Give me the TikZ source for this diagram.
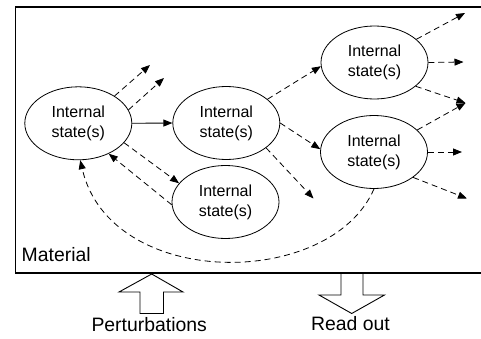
\documentclass[tikz,border=0pt]{standalone}
\usepackage{fontspec}
\setmainfont{Liberation Sans}
\usetikzlibrary{shapes.geometric,arrows.meta}
\begin{document}
\begin{tikzpicture}[x=1pt,y=-1pt,
  state/.style={ellipse,draw,line width=0.8pt,minimum width=107pt,minimum height=73pt,inner sep=0pt,
     align=center,font=\fontsize{16}{20}\selectfont},
  tip/.style={-{Triangle[length=9pt,width=7pt]}},
  dsh/.style={tip,line width=0.8pt,dash pattern=on 6pt off 4pt},
  sol/.style={tip,line width=0.9pt},
  lbl/.style={inner sep=0pt,font=\fontsize{19.4}{22}\selectfont},
  box/.style={line width=1.3pt},
  wide/.style={line width=0.9pt}]
\useasboundingbox (0,0) rectangle (481,339);
% material box
\draw[box] (482,7) -- (15.5,7) -- (15.5,273) -- (482,273);
\node[lbl,anchor=base west] (mat) at (21.5,261.5) {Material};
% states
\node[state] (e1) at (78.3,123.3) {Internal\\state(s)};
\node[state] (e2) at (226.3,123) {Internal\\state(s)};
\node[state] (e3) at (225.5,202) {Internal\\state(s)};
\node[state] (e4) at (374.5,62.5) {Internal\\state(s)};
\node[state] (e5) at (374,152) {Internal\\state(s)};
% free ends
\coordinate (a1) at (150,65);
\coordinate (a2) at (164,78);
\coordinate (b1) at (313.5,198.5);
\coordinate (c1) at (465,13);
\coordinate (c2) at (463.5,62);
\coordinate (c3) at (465.5,103);
\coordinate (d2) at (462,152);
\coordinate (d3) at (467,198.5);
% connectors
\draw[dsh] (e1.37) -- (a1);
\draw[dsh] (e1.15) -- (a2);
\draw[sol] (e1.east) -- (e2.west);
\draw[dsh] (e1.-23) -- (e3.158);
\draw[dsh] (e3.183) -- (e1.-45);
\draw[dsh] (e5.south) .. controls (330,290) and (110,290) .. (e1.-87);
\draw[dsh] (e2.30) -- (e4.184);
\draw[dsh] (e2.east) -- (e5.177);
\draw[dsh] (e2.-32) -- (b1);
\draw[dsh] (e4.29) -- (c1);
\draw[dsh] (e4.east) -- (c2);
\draw[dsh] (e4.-30) -- (c3);
\draw[dsh] (e5.27) -- (c3);
\draw[dsh] (e5.east) -- (d2);
\draw[dsh] (e5.-33) -- (d3);
% wide arrows
\draw[wide] (151.7,274) -- (183,292) -- (163.5,292) -- (163.5,313.5) -- (140,313.5) -- (140,292) -- (119,292) -- cycle;
\draw[wide] (341,273) -- (341,295) -- (319,295) -- (351.7,313.5) -- (384.5,295) -- (363,295) -- (363,273);
\node[lbl,anchor=base] (pert) at (149.2,331.5) {Perturbations};
\node[lbl,anchor=base] (read) at (350.5,330) {Read out};
\end{tikzpicture}
\end{document}
